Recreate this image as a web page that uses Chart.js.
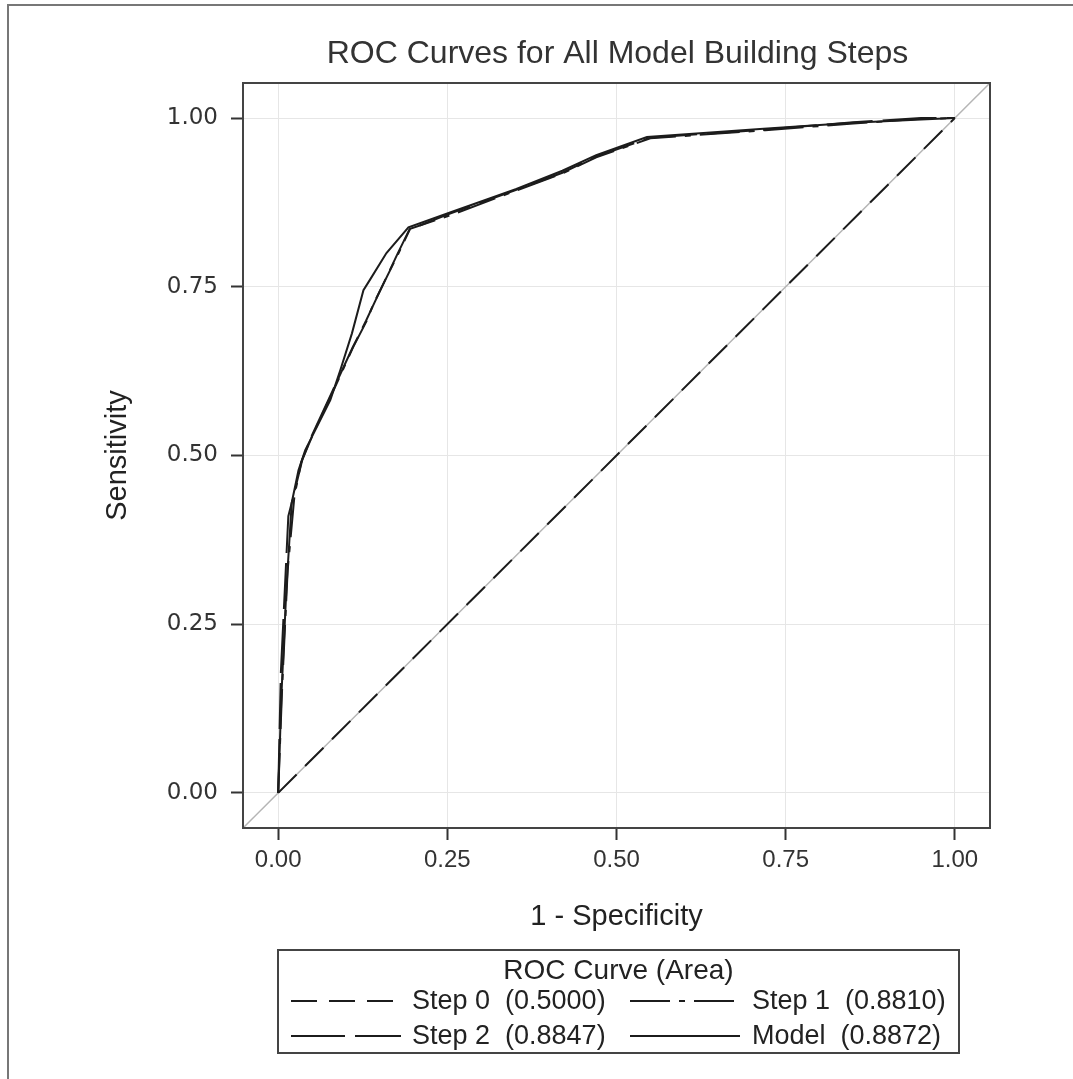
<!DOCTYPE html>
<html>
<head>
<meta charset="utf-8">
<script src="https://cdn.jsdelivr.net/npm/chart.js@4/dist/chart.umd.min.js"></script>
<style>
  html, body { margin: 0; padding: 0; background: #fff; }
  #wrap { position: relative; width: 1073px; height: 1079px; }
  #frame { position: absolute; left: 7px; top: 4px; right: 0; bottom: 0;
           border-top: 2px solid #777; border-left: 2px solid #777; pointer-events: none; }
  canvas { position: absolute; left: 0; top: 0; }
</style>
</head>
<body>
<div id="wrap"><canvas id="c" width="1073" height="1079"></canvas><div id="frame"></div></div>
<script>
// ---- data ----
const chartTitle = 'ROC Curves for All Model Building Steps';
const xAxisTitle = '1 - Specificity';
const yAxisTitle = 'Sensitivity';
const legendTitle = 'ROC Curve (Area)';
const seriesNames = ['Step 0', 'Step 1', 'Step 2', 'Model'];
const seriesAreas = ['0.5000', '0.8810', '0.8847', '0.8872'];
const xTickValues = [0, 0.25, 0.5, 0.75, 1];
const yTickValues = [0, 0.25, 0.5, 0.75, 1];

const step0X = [0, 1];
const step0Y = [0, 1];

const step1X = [0, 0.006, 0.014, 0.024, 0.034, 0.052, 0.082, 0.111, 0.131, 0.141, 0.178, 0.195, 0.26, 0.35, 0.42, 0.47, 0.55, 0.72, 0.85, 0.95, 1.0];
const step1Y = [0, 0.16, 0.33, 0.44, 0.49, 0.533, 0.597, 0.661, 0.70, 0.725, 0.80, 0.836, 0.858, 0.892, 0.918, 0.942, 0.970, 0.982, 0.992, 0.999, 1.0];

const step2X = [0, 0.004, 0.015, 0.025, 0.036, 0.050, 0.080, 0.110, 0.130, 0.143, 0.176, 0.194, 0.25, 0.35, 0.42, 0.47, 0.55, 0.72, 0.85, 0.95, 1.0];
const step2Y = [0, 0.18, 0.41, 0.45, 0.495, 0.53, 0.595, 0.66, 0.70, 0.728, 0.798, 0.835, 0.857, 0.893, 0.919, 0.943, 0.971, 0.983, 0.994, 1.0, 1.0];

const modelX = [0, 0.005, 0.012, 0.020, 0.030, 0.040, 0.050, 0.077, 0.092, 0.109, 0.126, 0.136, 0.160, 0.1925, 0.254, 0.352, 0.420, 0.470, 0.545, 0.712, 0.85, 0.95, 1.0];
const modelY = [0, 0.15, 0.30, 0.430, 0.478, 0.508, 0.528, 0.582, 0.627, 0.681, 0.745, 0.761, 0.800, 0.838, 0.860, 0.895, 0.922, 0.945, 0.972, 0.984, 0.993, 0.998, 1.0];

// ---- build ----
const toPts = (xs, ys) => xs.map((x, i) => ({ x: x, y: ys[i] }));
const dashes = [[26, 12], [40, 9, 6, 9], [54, 10, 46, 10], []];
const seriesData = [toPts(step0X, step0Y), toPts(step1X, step1Y), toPts(step2X, step2Y), toPts(modelX, modelY)];

const datasets = seriesNames.map((n, i) => ({
  label: n + '  (' + seriesAreas[i] + ')',
  data: seriesData[i],
  showLine: true,
  borderColor: '#1c1c1c',
  borderWidth: 2,
  borderDash: dashes[i],
  pointRadius: 0,
  tension: 0,
  fill: false
}));

const FONT = '"Liberation Sans", Arial, sans-serif';

const decor = {
  id: 'decor',
  beforeDatasetsDraw(chart) {
    const { ctx, chartArea: a, scales: { x, y } } = chart;
    ctx.save();
    ctx.beginPath();
    ctx.rect(a.left, a.top, a.right - a.left, a.bottom - a.top);
    ctx.clip();
    ctx.strokeStyle = '#b5b5b5';
    ctx.lineWidth = 1.5;
    ctx.beginPath();
    ctx.moveTo(x.getPixelForValue(x.min), y.getPixelForValue(x.min));
    ctx.lineTo(x.getPixelForValue(x.max), y.getPixelForValue(x.max));
    ctx.stroke();
    ctx.restore();
  },
  afterDatasetsDraw(chart) {
    const { ctx, chartArea: a } = chart;
    ctx.save();
    ctx.strokeStyle = '#444';
    ctx.lineWidth = 2;
    ctx.strokeRect(a.left, a.top, a.right - a.left, a.bottom - a.top);
    ctx.restore();
  },
  afterDraw(chart) {
    const { ctx, chartArea: a } = chart;
    ctx.save();
    // title
    ctx.fillStyle = '#333';
    ctx.font = '32px ' + FONT;
    ctx.textAlign = 'center';
    ctx.textBaseline = 'middle';
    ctx.fillText(chartTitle, (a.left + a.right) / 2 + 1, 54);
    // legend box
    const bx = 278, by = 950, bw = 681, bh = 103;
    ctx.strokeStyle = '#444';
    ctx.lineWidth = 2;
    ctx.strokeRect(bx, by, bw, bh);
    ctx.fillStyle = '#222';
    ctx.font = '28px ' + FONT;
    ctx.fillText(legendTitle, bx + bw / 2, 971);
    ctx.font = '27px ' + FONT;
    ctx.textAlign = 'left';
    const colLine = [291, 630], colText = [412, 752], rowY = [1001, 1036];
    chart.data.datasets.forEach((ds, i) => {
      const c = i % 2, r = Math.floor(i / 2);
      ctx.strokeStyle = ds.borderColor;
      ctx.lineWidth = 2;
      ctx.setLineDash(ds.borderDash);
      ctx.beginPath();
      ctx.moveTo(colLine[c], rowY[r]);
      ctx.lineTo(colLine[c] + 110, rowY[r]);
      ctx.stroke();
      ctx.setLineDash([]);
      ctx.fillStyle = '#222';
      ctx.fillText(ds.label, colText[c], rowY[r] + 1);
    });
    ctx.restore();
  }
};

new Chart(document.getElementById('c'), {
  type: 'scatter',
  data: { datasets },
  options: {
    responsive: false,
    animation: false,
    layout: { padding: { left: 100, right: 83, top: 83, bottom: 139 } },
    plugins: { legend: { display: false }, title: { display: false }, tooltip: { enabled: false } },
    scales: {
      x: {
        type: 'linear', min: -0.052, max: 1.052,
        afterBuildTicks: s => { s.ticks = xTickValues.map(v => ({ value: v })); },
        afterFit: s => { s.height = 112; },
        ticks: { callback: v => v.toFixed(2), color: '#333', padding: 6,
                 font: { family: FONT, size: 24 }, maxRotation: 0 },
        grid: { color: '#e6e6e6', tickColor: '#333', tickLength: 12, lineWidth: 1, tickWidth: 2 },
        border: { color: '#444', width: 2 },
        title: { display: true, text: xAxisTitle, color: '#222', padding: { top: 4, bottom: 6 },
                 font: { family: FONT, size: 29 } }
      },
      y: {
        type: 'linear', min: -0.052, max: 1.052,
        afterBuildTicks: s => { s.ticks = yTickValues.map(v => ({ value: v })); },
        afterFit: s => { s.width = 143; },
        ticks: { callback: v => v.toFixed(2), color: '#333', padding: 13,
                 font: { family: '"DejaVu Sans", Verdana, sans-serif', size: 23 } },
        grid: { color: '#e6e6e6', tickColor: '#333', tickLength: 12, lineWidth: 1, tickWidth: 2 },
        border: { color: '#444', width: 2 },
        title: { display: true, text: yAxisTitle, color: '#222', padding: 1,
                 font: { family: FONT, size: 29 } }
      }
    }
  },
  plugins: [decor]
});
</script>
</body>
</html>
